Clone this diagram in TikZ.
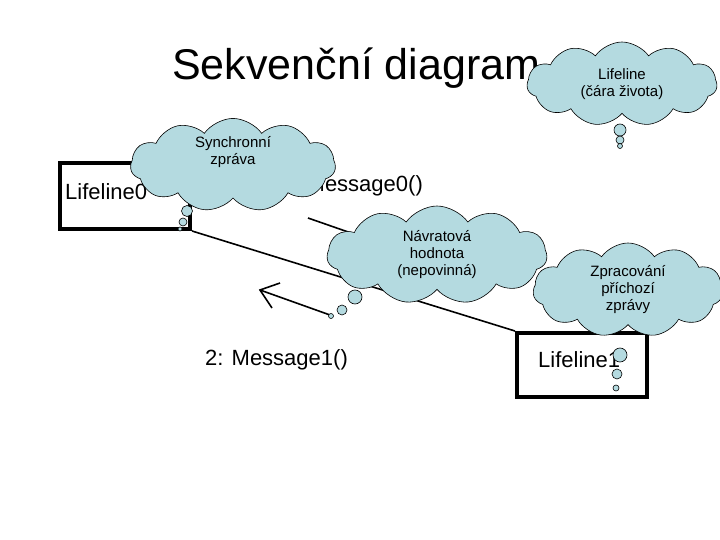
\documentclass[tikz,border=0pt]{standalone}
\usepackage{fontspec}
\setmainfont{Liberation Sans}
\usetikzlibrary{shapes.symbols,arrows.meta}
\definecolor{cfill}{RGB}{180,218,224}
\tikzset{
  thought/.style={cloud, cloud puffs=11, cloud puff arc=110, cloud ignores aspect, draw=black, fill=cfill, line width=0.6pt, align=center, font=\fontsize{15}{17}\selectfont, inner sep=0pt},
  bub/.style={circle, draw=black, fill=cfill, line width=0.6pt, inner sep=0pt},
  lifebox/.style={draw=black, line width=4pt, fill=white, inner sep=0pt},
  msgline/.style={line width=1.6pt},
  lbl/.style={font=\fontsize{22}{24}\selectfont, inner sep=0pt, anchor=west}
}
\begin{document}
\begin{tikzpicture}[x=1pt,y=-1pt]
\useasboundingbox (0,0) rectangle (720,540);
\fill[white] (0,0) rectangle (720,540);
\node[font=\fontsize{43}{46}\selectfont, anchor=west, inner sep=0pt] (title) at (172,68) {Sekvenční diagram};
\node[lifebox, minimum width=130pt, minimum height=66pt] (l0) at (125,196) {};
\node[lbl] (l0t) at (65,192) {Lifeline0};
\node[lifebox, minimum width=130pt, minimum height=64pt] (l1) at (582,365) {};
\node[lbl] (l1t) at (538,360) {Lifeline1};
\draw[msgline] (l0.south east) -- (l1.north west);
\node[lbl] (m0) at (280,186) {1: Message0()};
\node[lbl] (m1) at (205,360) {2: Message1()};
\coordinate (a0s) at (308,218);
\coordinate (a0e) at (440,264);
\draw[msgline] (a0s) -- (a0e);
\coordinate (a1s) at (330,315);
\coordinate (a1e) at (260,290);
\draw[msgline] (a1s) -- (a1e);
\draw[line width=1.6pt] (280,283) -- (a1e) -- (272,308);
% clouds
\node[thought, minimum width=205pt, minimum height=78pt] (c1) at (233,165) {Synchronní\\zpráva\\[12pt]};
\node[bub, minimum size=11pt] (b11) at (187,211) {};
\node[bub, minimum size=8pt] (b12) at (183,222) {};
\node[bub, minimum size=4pt] (b13) at (180,229) {};
\node[thought, minimum width=220pt, minimum height=98pt] (c2) at (437,255) {Návratová\\hodnota\\(nepovinná)};
\node[bub, minimum size=14pt] (b21) at (355,297) {};
\node[bub, minimum size=10pt] (b22) at (342,310) {};
\node[bub, minimum size=5pt] (b23) at (331,316) {};
\node[thought, minimum width=190pt, minimum height=84pt] (c3) at (622,84) {Lifeline\\(čára života)};
\node[bub, minimum size=12pt] (b31) at (620,130) {};
\node[bub, minimum size=8pt] (b32) at (620,140) {};
\node[bub, minimum size=5pt] (b33) at (620,146) {};
\node[thought, minimum width=190pt, minimum height=94pt] (c4) at (628,290) {Zpracování\\příchozí\\zprávy};
\node[bub, minimum size=14pt] (b41) at (620,355) {};
\node[bub, minimum size=10pt] (b42) at (617,374) {};
\node[bub, minimum size=6pt] (b43) at (616,388) {};
\end{tikzpicture}
\end{document}
